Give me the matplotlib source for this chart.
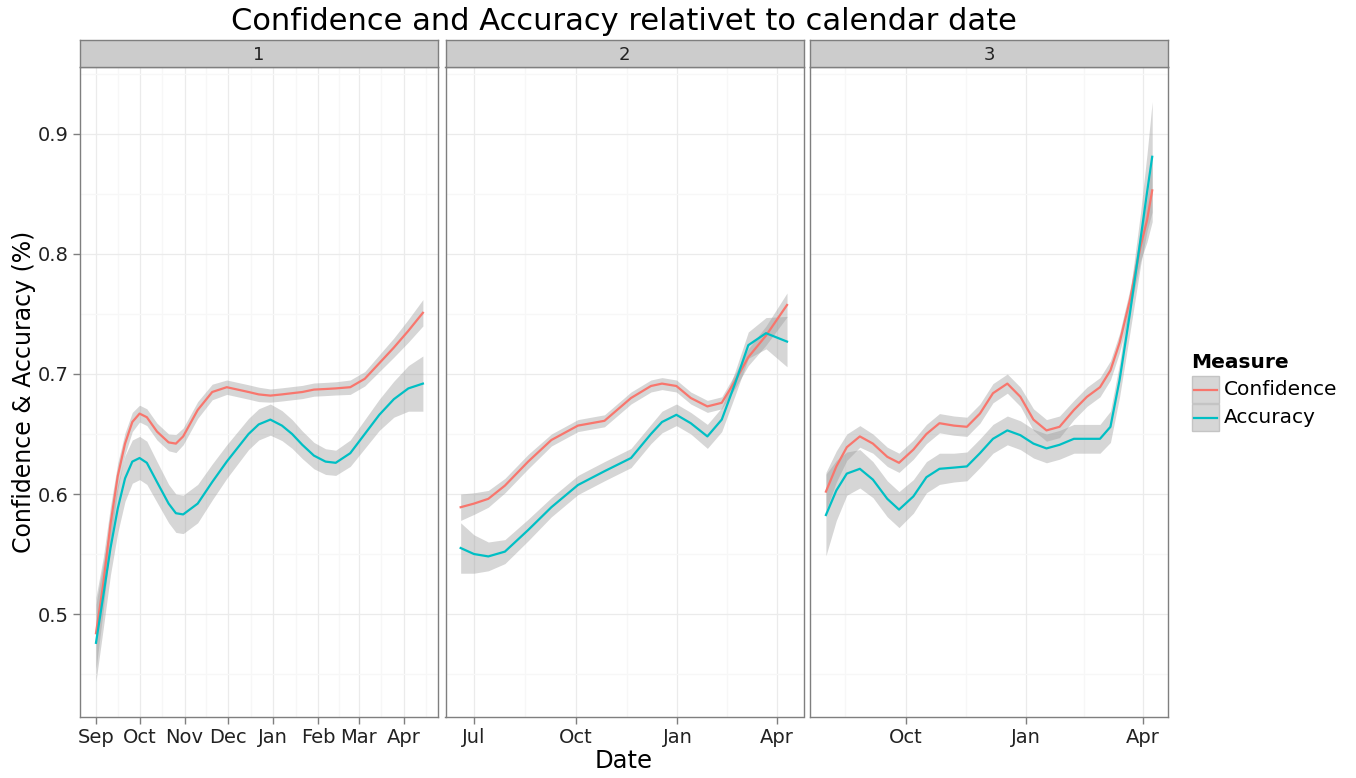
import numpy as np
import matplotlib.pyplot as plt
import matplotlib.dates as mdates
from matplotlib.patches import Rectangle
from matplotlib.lines import Line2D

# facet labels and the date each facet's day offsets count from
facets = ['1', '2', '3']
ref_dates = ['2013-09-01', '2013-07-01', '2013-10-01']

# facet 1 (days after Sep 1)
p1_days = [0, 5, 10, 15, 20, 25, 30, 35, 42, 50, 55, 60, 70, 80, 90, 105, 112,
           120, 128, 135, 142, 150, 158, 165, 175, 185, 195, 205, 215, 225]
p1_conf = [0.484, 0.525, 0.575, 0.615, 0.642, 0.660, 0.667, 0.664, 0.652, 0.643,
           0.642, 0.648, 0.670, 0.685, 0.689, 0.685, 0.683, 0.682, 0.683, 0.684,
           0.685, 0.687, 0.6875, 0.688, 0.689, 0.696, 0.709, 0.722, 0.736, 0.751]
p1_conf_ci = [0.030, 0.022, 0.015, 0.011, 0.009, 0.008, 0.007, 0.007, 0.007, 0.007,
              0.0075, 0.007, 0.007, 0.0065, 0.006, 0.006, 0.006, 0.0055, 0.0055,
              0.0055, 0.0055, 0.0055, 0.0055, 0.0055, 0.006, 0.006, 0.007, 0.008,
              0.0095, 0.011]
p1_acc = [0.476, 0.515, 0.555, 0.588, 0.613, 0.627, 0.630, 0.626, 0.610, 0.592,
          0.584, 0.583, 0.592, 0.610, 0.627, 0.650, 0.658, 0.662, 0.657, 0.650,
          0.641, 0.632, 0.627, 0.626, 0.634, 0.650, 0.666, 0.679, 0.688, 0.692]
p1_acc_ci = [0.032, 0.027, 0.022, 0.020, 0.019, 0.018, 0.018, 0.018, 0.017, 0.016,
             0.016, 0.016, 0.016, 0.015, 0.014, 0.013, 0.013, 0.013, 0.0125, 0.012,
             0.0115, 0.011, 0.0107, 0.0105, 0.011, 0.012, 0.013, 0.015, 0.019, 0.023]

# facet 2 (days after Jul 1)
p2_days = [-12, 0, 13, 28, 49, 70, 94, 118, 142, 160, 170, 183, 196, 211, 224,
           236, 248, 264, 283]
p2_conf = [0.589, 0.592, 0.596, 0.607, 0.627, 0.645, 0.657, 0.661, 0.680, 0.690,
           0.692, 0.690, 0.680, 0.673, 0.676, 0.694, 0.714, 0.732, 0.7575]
p2_conf_ci = [0.011, 0.009, 0.007, 0.006, 0.006, 0.005, 0.005, 0.005, 0.005, 0.005,
              0.005, 0.005, 0.005, 0.005, 0.005, 0.006, 0.007, 0.008, 0.010]
p2_acc = [0.555, 0.550, 0.548, 0.552, 0.570, 0.589, 0.6075, 0.619, 0.630, 0.650,
          0.660, 0.666, 0.659, 0.648, 0.662, 0.692, 0.724, 0.734, 0.727]
p2_acc_ci = [0.021, 0.016, 0.012, 0.010, 0.009, 0.008, 0.008, 0.008, 0.008, 0.008,
             0.009, 0.009, 0.009, 0.010, 0.010, 0.010, 0.011, 0.013, 0.021]

# facet 3 (days after Oct 1)
p3_days = [-61, -53, -45, -35, -25, -14, -5, 6, 16, 26, 37, 47, 57, 67, 78, 88,
           98, 108, 118, 129, 139, 149, 157, 164, 172, 180, 185, 189]
p3_conf = [0.602, 0.623, 0.639, 0.648, 0.642, 0.631, 0.626, 0.637, 0.650, 0.659,
           0.657, 0.656, 0.667, 0.684, 0.692, 0.681, 0.662, 0.653, 0.656, 0.670,
           0.681, 0.689, 0.703, 0.726, 0.762, 0.806, 0.828, 0.853]
p3_conf_ci = [0.016, 0.013, 0.011, 0.009, 0.008, 0.008, 0.008, 0.008, 0.008, 0.008,
              0.008, 0.008, 0.008, 0.008, 0.008, 0.008, 0.009, 0.009, 0.009, 0.008,
              0.008, 0.008, 0.008, 0.008, 0.009, 0.012, 0.018, 0.026]
p3_acc = [0.5825, 0.603, 0.617, 0.621, 0.612, 0.596, 0.587, 0.598, 0.614, 0.621,
          0.622, 0.623, 0.634, 0.646, 0.653, 0.649, 0.642, 0.638, 0.641, 0.646,
          0.646, 0.646, 0.656, 0.695, 0.751, 0.812, 0.851, 0.881]
p3_acc_ci = [0.034, 0.025, 0.018, 0.016, 0.015, 0.015, 0.015, 0.014, 0.013, 0.013,
             0.012, 0.012, 0.012, 0.012, 0.012, 0.012, 0.012, 0.012, 0.012, 0.012,
             0.012, 0.012, 0.013, 0.014, 0.016, 0.022, 0.032, 0.046]

# visible x range of each facet, in days from its reference date
x_ranges = [(-11.0, 235.4), (-25.7, 297.9), (-73.2, 201.1)]
tick_months = [range(1, 13), [1, 4, 7, 10], [1, 4, 7, 10]]

CONF_COL = '#F8766D'
ACC_COL = '#00BFC4'
GREY50 = '#7F7F7F'

panels = [
    (p1_days, p1_conf, p1_conf_ci, p1_acc, p1_acc_ci),
    (p2_days, p2_conf, p2_conf_ci, p2_acc, p2_acc_ci),
    (p3_days, p3_conf, p3_conf_ci, p3_acc, p3_acc_ci),
]

W, H = 1356, 778


def fx(px):
    return px / W


def fy(py):
    return 1 - py / H


def minor_mids(locator, lo, hi):
    majors = np.asarray(locator.tick_values(mdates.num2date(lo - 120),
                                            mdates.num2date(hi + 120)))
    mids = (majors[:-1] + majors[1:]) / 2
    return mids[(mids > lo) & (mids < hi)]


fig = plt.figure(figsize=(W / 100, H / 100), dpi=100)

lefts = [80, 445.5, 810]
pw = 358
top, bottom, strip_top = 67, 717, 40

for i, (days, conf, conf_ci, acc, acc_ci) in enumerate(panels):
    ax = fig.add_axes([fx(lefts[i]), fy(bottom), pw / W, (bottom - top) / H])
    base = mdates.date2num(np.datetime64(ref_dates[i]))
    x = base + np.array(days, dtype=float)

    for vals, ci, col in [(conf, conf_ci, CONF_COL), (acc, acc_ci, ACC_COL)]:
        vals = np.array(vals)
        ci = np.array(ci)
        ax.fill_between(x, vals - ci, vals + ci, color='#999999', alpha=0.4,
                        lw=0, zorder=2)
        ax.plot(x, vals, color=col, lw=1.6, zorder=3, solid_joinstyle='round')

    lo, hi = base + x_ranges[i][0], base + x_ranges[i][1]
    ax.set_xlim(lo, hi)
    ax.set_ylim(0.4142, 0.9558)

    loc = mdates.MonthLocator(bymonth=tick_months[i])
    ax.xaxis.set_major_locator(loc)
    ax.xaxis.set_major_formatter(mdates.DateFormatter('%b'))
    ax.set_xticks(minor_mids(loc, lo, hi), minor=True)
    ax.set_yticks([0.5, 0.6, 0.7, 0.8, 0.9])
    ax.set_yticks([0.45, 0.55, 0.65, 0.75, 0.85, 0.95], minor=True)

    ax.grid(which='major', color='#EBEBEB', lw=0.9, zorder=0)
    ax.grid(which='minor', color='#F7F7F7', lw=0.9, zorder=0)
    ax.set_axisbelow(True)
    ax.tick_params(which='major', direction='out', length=5, width=1,
                   color=GREY50, labelsize=14, labelcolor='#222222', pad=3)
    ax.tick_params(which='minor', length=0)
    if i > 0:
        ax.tick_params(axis='y', left=False, labelleft=False)
    for sp in ax.spines.values():
        sp.set_color(GREY50)
        sp.set_linewidth(1)

    # facet strip
    sax = fig.add_axes([fx(lefts[i]), fy(top), pw / W, (top - strip_top) / H])
    sax.set_facecolor('#CCCCCC')
    sax.set_xticks([])
    sax.set_yticks([])
    for sp in sax.spines.values():
        sp.set_color(GREY50)
        sp.set_linewidth(1)
    sax.text(0.5, 0.45, facets[i], ha='center', va='center', fontsize=13,
             color='#222222', transform=sax.transAxes)

fig.text(fx(624), fy(22), 'Confidence and Accuracy relativet to calendar date',
         ha='center', va='center', fontsize=22)
fig.text(fx(624), fy(761), 'Date', ha='center', va='center', fontsize=17.5)
fig.text(fx(24), fy(392), 'Confidence & Accuracy (%)', ha='center', va='center',
         rotation=90, fontsize=17)

# legend
fig.text(fx(1191), fy(363), 'Measure', ha='left', va='center', fontsize=14.5,
         fontweight='bold')
for k, (name, col) in enumerate([('Confidence', CONF_COL), ('Accuracy', ACC_COL)]):
    ytop = 376 + k * 28
    fig.add_artist(Rectangle((fx(1192), fy(ytop + 27)), 27 / W, 27 / H,
                             transform=fig.transFigure, facecolor='#D6D6D6',
                             edgecolor='#C4C4C4', lw=1))
    fig.add_artist(Line2D([fx(1194), fx(1217)], [fy(ytop + 13.5)] * 2,
                          transform=fig.transFigure, color=col, lw=1.6))
    fig.text(fx(1224), fy(ytop + 13.5), name, ha='left', va='center',
             fontsize=14.5)

fig.savefig('out.png', dpi=100)
